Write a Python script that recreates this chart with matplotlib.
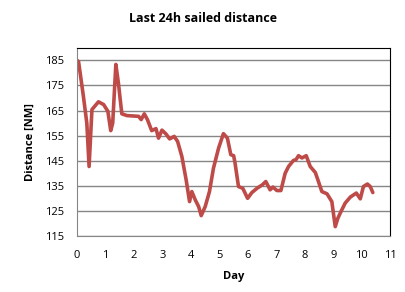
import matplotlib.pyplot as plt

plt.rcParams['font.family'] = ['Open Sans', 'DejaVu Sans']

# day of race vs distance sailed in the last 24h
days = [0.0, 0.05, 0.22, 0.34, 0.42, 0.52, 0.75, 0.93, 1.08, 1.18, 1.25, 1.36,
        1.45, 1.57, 1.75, 2.16, 2.25, 2.36, 2.47, 2.62, 2.77, 2.86, 2.98, 3.12,
        3.25, 3.41, 3.53, 3.68, 3.83, 3.95, 4.03, 4.15, 4.27, 4.36, 4.5, 4.65,
        4.79, 4.97, 5.14, 5.28, 5.4, 5.5, 5.55, 5.67, 5.82, 5.99, 6.14, 6.32,
        6.51, 6.63, 6.78, 6.88, 7.02, 7.16, 7.31, 7.43, 7.6, 7.69, 7.78, 7.9,
        8.05, 8.19, 8.37, 8.48, 8.6, 8.78, 8.95, 9.07, 9.16, 9.27, 9.42, 9.6,
        9.81, 9.95, 10.06, 10.2, 10.3, 10.39]
distance = [185, 184.5, 170.7, 160, 142.7, 165.4, 168.5, 167.4, 164.7, 157,
            160, 183.4, 176, 163.7, 163, 162.7, 161.4, 163.7, 161.4, 157,
            157.8, 154, 157.2, 155.7, 153.7, 154.7, 152.7, 146.7, 137.4, 128.7,
            132.7, 129.4, 126.7, 123.1, 126.7, 132.7, 142, 150, 155.8, 154,
            147.4, 147, 144, 134.7, 134, 130, 132.3, 134, 135.4, 136.7, 133.4,
            134.5, 133.1, 133.1, 140, 142.7, 145.1, 145.4, 147, 146.1, 147,
            142.7, 140.3, 136.7, 132.7, 131.8, 128.7, 118.7, 122, 124.7, 128.1,
            130.5, 132.1, 129.8, 134.7, 135.7, 134.7, 132.3]

y_ticks = list(range(115, 186, 10))
x_ticks = list(range(0, 12))

fig = plt.figure(figsize=(4.06, 2.92), dpi=100)
ax = fig.add_axes([0.19, 0.192, 0.771, 0.644])

ax.plot(days, distance, color='#BE4B48', linewidth=2.6,
        solid_joinstyle='round', solid_capstyle='round')

ax.set_xlim(0, 11)
ax.set_ylim(115, 190)
ax.set_xticks(x_ticks)
ax.set_yticks(y_ticks)
ax.tick_params(length=0, labelsize=8)
ax.tick_params(axis='x', pad=10)
ax.tick_params(axis='y', pad=9)
ax.yaxis.grid(True, color='#868686', linewidth=1)
ax.set_axisbelow(True)

for side in ('left', 'bottom'):
    ax.spines[side].set_color('#868686')
for side in ('top', 'right'):
    ax.spines[side].set_color('black')

ax.set_xlabel('Day', fontsize=8, fontweight='bold', labelpad=7)
ax.set_ylabel('Distance [NM]', fontsize=8, fontweight='bold', labelpad=7)
fig.text(0.5, 0.935, 'Last 24h sailed distance', ha='center', va='center',
         fontsize=9, fontweight='bold')

fig.savefig('out.png', dpi=100)
